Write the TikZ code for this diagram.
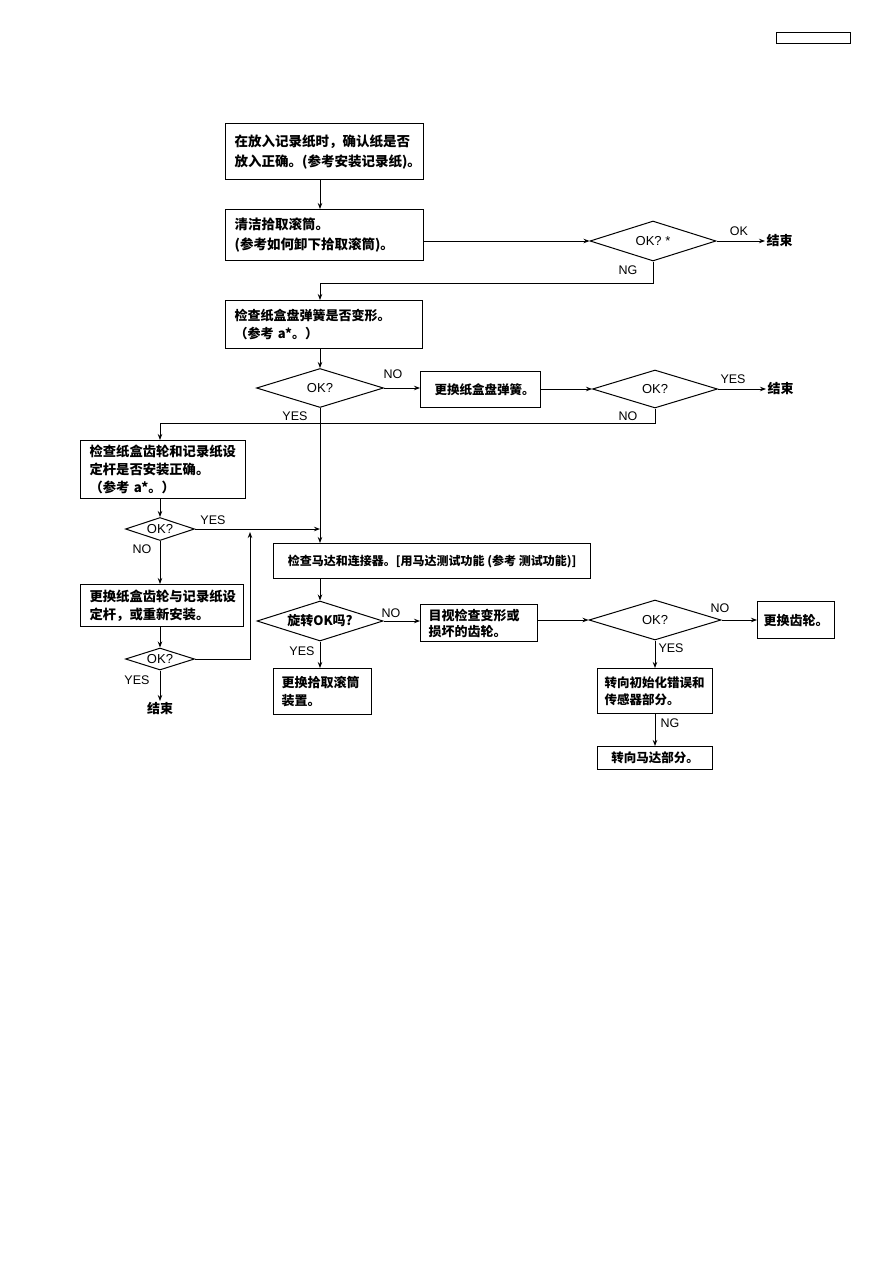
\documentclass[tikz,border=0pt]{standalone}
\usepackage{fontspec}
\setmainfont{Liberation Sans}
\newfontfamily\cjk{Noto Sans CJK SC}
\usetikzlibrary{shapes.geometric,arrows.meta}
\begin{document}
\begin{tikzpicture}[x=1pt,y=-1pt,
  box/.style={draw, line width=1.2pt, anchor=north west, inner xsep=9pt, inner ysep=0pt, font=\cjk\bfseries\fontsize{13}{18}\selectfont, align=left},
  cbox/.style={draw, line width=1.2pt, anchor=north west, inner sep=0pt, font=\cjk\bfseries\fontsize{13}{18}\selectfont, align=center},
  dia/.style={draw, diamond, aspect=3, inner sep=0pt, line width=1pt, font=\fontsize{13}{15}\selectfont},
  lbl/.style={font=\fontsize{12.5}{14}\selectfont, inner sep=0pt},
  endn/.style={font=\cjk\bfseries\fontsize{13}{15}\selectfont, inner sep=1.5pt},
  arr/.style={line width=0.9pt, -{Stealth[length=6pt,width=4.5pt]}},
  ln/.style={line width=0.9pt}]
\fill[white] (0,0) rectangle (893,1263);
\useasboundingbox (0,0) rectangle (893,1263);

\node[draw, line width=1pt, minimum width=74pt, minimum height=11pt, inner sep=0pt, anchor=north west] (hdr) at (776,32) {};

% boxes
\node[box, minimum width=198pt, minimum height=56pt, text width=180pt, font=\cjk\bfseries\fontsize{13.5}{20}\selectfont] (b1) at (225,123) {在放入记录纸时，确认纸是否\\放入正确。(参考安装记录纸)。};
\node[box, minimum width=198pt, minimum height=51pt, text width=180pt, font=\cjk\bfseries\fontsize{13.5}{20}\selectfont] (b2) at (225,209) {清洁拾取滚筒。\\(参考如何卸下拾取滚筒)。};
\node[box, minimum width=197pt, minimum height=48pt, text width=179pt] (b3) at (225,300) {检查纸盒盘弹簧是否变形。\\（参考 a*。）};
\node[cbox, minimum width=120pt, minimum height=36pt, font=\cjk\bfseries\fontsize{12.5}{15}\selectfont] (b4) at (420,371) {\hspace*{8pt}更换纸盒盘弹簧。};
\node[box, minimum width=165pt, minimum height=58pt, text width=147pt, font=\cjk\bfseries\fontsize{13.3}{18}\selectfont] (b5) at (80,440) {检查纸盒齿轮和记录纸设\\定杆是否安装正确。\\（参考 a*。）};
\node[box, minimum width=163pt, minimum height=42pt, text width=145pt, font=\cjk\bfseries\fontsize{13.3}{18}\selectfont] (b7) at (80,584) {更换纸盒齿轮与记录纸设\\定杆，或重新安装。};
\node[cbox, minimum width=317pt, minimum height=35pt, font=\cjk\bfseries\fontsize{12}{15}\selectfont] (b6) at (273,543) {检查马达和连接器。[用马达测试功能 (参考 测试功能)]};
\node[box, minimum width=117pt, minimum height=37pt, text width=101pt, inner xsep=8pt, font=\cjk\bfseries\fontsize{13}{16}\selectfont] (b8) at (420,604) {目视检查变形或\\损坏的齿轮。};
\node[box, minimum width=98pt, minimum height=46pt, text width=82pt, inner xsep=8pt] (b9) at (273,668) {更换拾取滚筒\\装置。};
\node[cbox, minimum width=77pt, minimum height=37pt] (b10) at (757,601) {更换齿轮。};
\node[box, minimum width=115pt, minimum height=45pt, text width=101pt, inner xsep=7pt, font=\cjk\bfseries\fontsize{12.5}{17}\selectfont] (b11) at (597,668) {转向初始化错误和\\传感器部分。};
\node[cbox, minimum width=115pt, minimum height=23pt, font=\cjk\bfseries\fontsize{12.5}{15}\selectfont] (b12) at (597,746) {转向马达部分。};

% diamonds
\node[dia, minimum width=126pt, minimum height=40pt] (d1) at (653,241) {OK? *};
\node[dia, minimum width=127pt, minimum height=39pt] (d2) at (320,388) {OK?};
\node[dia, minimum width=125pt, minimum height=38pt] (d3) at (655,389) {OK?};
\node[dia, minimum width=69pt, minimum height=23pt] (d4) at (160,529) {OK?};
\node[dia, minimum width=69pt, minimum height=22pt] (d5) at (160,659) {OK?};
\node[dia, minimum width=126pt, minimum height=40pt, font=\cjk\bfseries\fontsize{13}{15}\selectfont] (d6) at (320,621) {旋转OK吗?};
\node[dia, minimum width=132pt, minimum height=40pt] (d7) at (655,620) {OK?};

% ends
\node[endn, anchor=west] (e1) at (765,241) {结束};
\node[endn, anchor=west] (e2) at (766,389) {结束};
\node[endn, anchor=north] (e3) at (160,701) {结束};

% labels
\node[lbl] (l1) at (739,231) {OK};
\node[lbl] (l2) at (628,270) {NG};
\node[lbl] (l3) at (393,374) {NO};
\node[lbl] (l4) at (733,379) {YES};
\node[lbl] (l5) at (628,416) {NO};
\node[lbl] (l6) at (295,416) {YES};
\node[lbl] (l7) at (213,520) {YES};
\node[lbl] (l8) at (142,549) {NO};
\node[lbl] (l9) at (137,680) {YES};
\node[lbl] (l10) at (391,613) {NO};
\node[lbl] (l11) at (302,651) {YES};
\node[lbl] (l12) at (720,608) {NO};
\node[lbl] (l13) at (671,648) {YES};
\node[lbl] (l14) at (670,723) {NG};

% helper coordinates
\coordinate (n1) at (653,283);
\coordinate (n2) at (655,423);
\coordinate (lp) at (250,659);
\coordinate (lt) at (250,532);

% connectors
\draw[arr] (b1.south -| d2) -- (b2.north -| d2);
\draw[arr] (d1.west -| b2.east) -- (d1.west);
\draw[arr] (d1.east) -- (e1.west);
\draw[arr] (d1.south) -- (n1) -| (b3.north -| d2);
\draw[arr] (b3.south -| d2) -- (d2.north);
\draw[arr] (d2.east) -- (d2.east -| b4.west);
\draw[arr] (b4.east |- d3.west) -- (d3.west);
\draw[arr] (d3.east) -- (e2.west);
\draw[arr] (d3.south) -- (n2) -| (b5.north -| d4);
\draw[arr] (d2.south) -- (b6.north -| d2);
\draw[arr] (d4.east) -- (d4.east -| d2);
\draw[arr] (b5.south -| d4) -- (d4.north);
\draw[arr] (d4.south) -- (b7.north -| d4);
\draw[arr] (b7.south -| d4) -- (d5.north);
\draw[arr] (d5.south) -- (e3.north);
\draw[arr] (d5.east) -- (lp) -- (lt);
\draw[arr] (b6.south -| d2) -- (d6.north);
\draw[arr] (d6.east) -- (d6.east -| b8.west);
\draw[arr] (d6.south) -- (b9.north -| d6);
\draw[arr] (d7.west -| b8.east) -- (d7.west);
\draw[arr] (d7.east) -- (d7.east -| b10.west);
\draw[arr] (d7.south) -- (b11.north -| d7);
\draw[arr] (b11.south -| d7) -- (b12.north -| d7);
\end{tikzpicture}
\end{document}
